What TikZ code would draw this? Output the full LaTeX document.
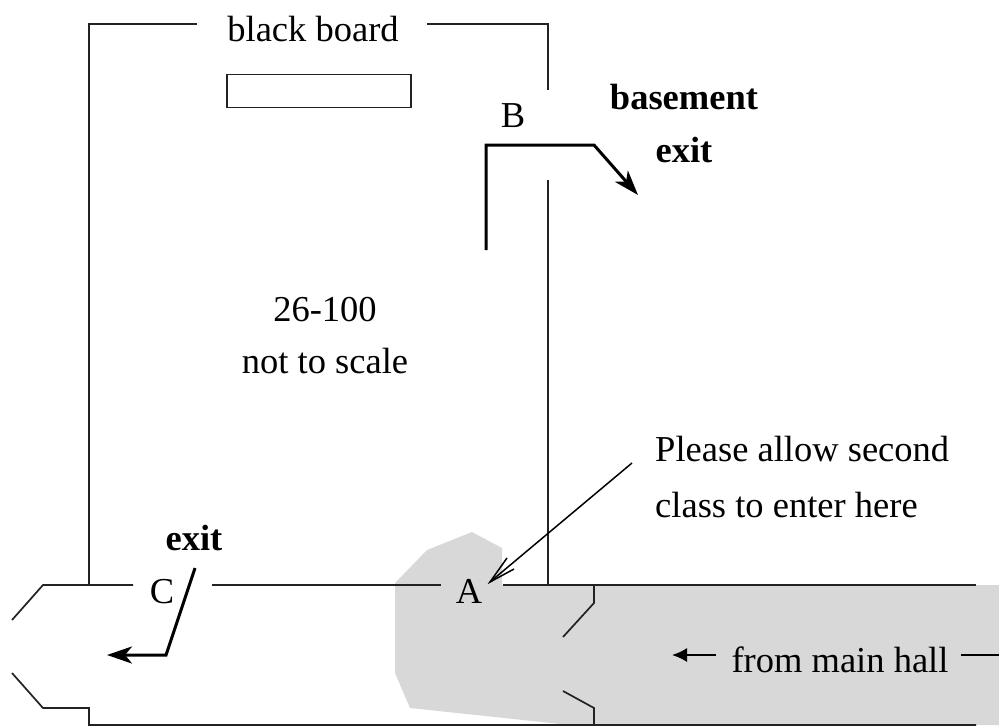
\documentclass[tikz,border=0pt]{standalone}
\usepackage{fontspec}
\setmainfont{Liberation Serif}
\usetikzlibrary{arrows.meta}
\definecolor{hallgray}{HTML}{D8D8D8}
\definecolor{wallcol}{HTML}{222222}
\tikzset{
  wall/.style={draw=wallcol,line width=1.7pt,line join=miter},
  boldpath/.style={draw=black,line width=3pt,line join=miter,-{Stealth[length=25pt,width=17pt,inset=7pt]}},
  txt/.style={font=\fontsize{36.5}{36.5}\selectfont,inner sep=0pt,anchor=base},
  btxt/.style={font=\fontsize{36.5}{36.5}\selectfont\bfseries,inner sep=0pt,anchor=base},
}
\begin{document}
\begin{tikzpicture}[x=1pt,y=-1pt]
\useasboundingbox (0,0) rectangle (999,726);
\fill[hallgray] (395,583)--(427,550)--(472,532)--(502,548)--(502,585)--(999,585)--(999,725)--(570,725)--(410,708)--(395,673)--cycle;
% walls
\draw[wall] (197,24)--(89,24)--(89,585);
\draw[wall] (427,24)--(548,24)--(548,90);
\draw[wall] (548,180)--(548,585);
\draw[wall] (12,620)--(43,585)--(133,585);
\draw[wall] (212,585)--(441,585);
\draw[wall] (503,585)--(976,585);
\draw[wall] (12,673)--(43,708)--(89,708)--(89,725)--(976,725);
\draw[wall] (594,585)--(594,603)--(563,637);
\draw[wall] (563,691)--(594,708)--(594,725);
\node[draw=wallcol,line width=1.5pt,minimum width=184pt,minimum height=33pt,inner sep=0pt] (board) at (319,91) {};
% labels
\node[txt] (bb) at (313,41) {black board};
\node[txt] (b) at (513,127) {B};
\node[btxt] (be1) at (684,109) {basement};
\node[btxt] (be2) at (684,162) {exit};
\node[txt] (room1) at (325,321) {26-100};
\node[txt] (room2) at (325,373) {not to scale};
\node[txt,anchor=base west] (p1) at (655,461) {Please allow second};
\node[txt,anchor=base west] (p2) at (655,517) {class to enter here};
\node[btxt] (ex) at (194,550) {exit};
\node[txt] (c) at (162,603) {C};
\node[txt] (a) at (469,603) {A};
\node[txt] (hall) at (840,672) {from main hall};
% connectors
\coordinate (bs) at (486,250);
\coordinate (bc1) at (486,145);
\coordinate (bc2) at (594,145);
\coordinate (bt) at (638,195);
\draw[boldpath] (bs)--(bc1)--(bc2)--(bt);
\coordinate (cs) at (195,568);
\coordinate (cc) at (166,655);
\coordinate (ct) at (107,655);
\draw[boldpath] (cs)--(cc)--(ct);
\coordinate (ps) at (632,463);
\coordinate (at) at (490,582);
\coordinate (bar1) at (507,558);
\coordinate (bar2) at (514,569);
\draw[draw=black,line width=1.5pt] (ps)--(at);
\draw[draw=black,line width=1.5pt,line join=miter] (bar1)--(at)--(bar2);
\coordinate (hs) at (716,655);
\coordinate (ht) at (672,655);
\draw[draw=black,line width=1.7pt,-{Latex[length=15pt,width=14pt]}] (hs)--(ht);
\coordinate (hl) at (961,655);
\coordinate (hr) at (999,655);
\draw[draw=black,line width=1.7pt] (hl)--(hr);
\end{tikzpicture}
\end{document}
